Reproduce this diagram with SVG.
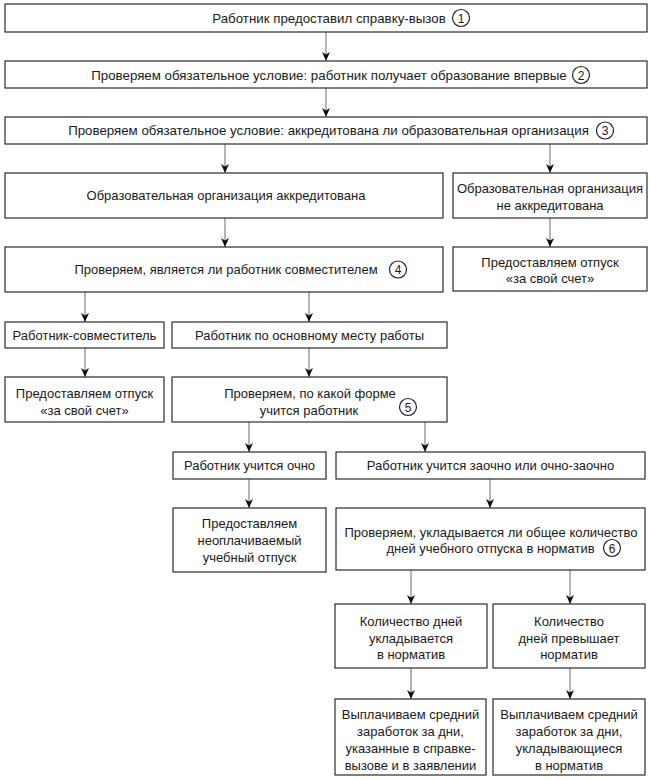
<svg xmlns="http://www.w3.org/2000/svg" width="650" height="780" viewBox="0 0 650 780">
<style>
.b{fill:#fff;stroke:#2a2a2a;stroke-width:1.2}
.t{font-family:"Liberation Sans",Arial,sans-serif;font-size:13px;fill:#1a1a1a;text-anchor:middle}
.tt{font-size:13.3px}
.c{fill:none;stroke:#222;stroke-width:1.2}
.n{font-family:"Liberation Sans",Arial,sans-serif;font-size:12px;fill:#1a1a1a;text-anchor:middle}
.a{fill:none;stroke:#6a6a6a;stroke-width:1;marker-end:url(#ah)}
</style>
<defs>
<marker id="ah" markerWidth="8" markerHeight="9" refX="4" refY="9" orient="0" markerUnits="userSpaceOnUse">
<path d="M0,0 L4,2.5 L8,0 L4,9 Z" fill="#111"/>
</marker>
</defs>
<rect width="650" height="780" fill="#fff"/>
<g id="connectors">
<path class="a" d="M326,32 V61"/>
<path class="a" d="M326,88 V117"/>
<path class="a" d="M225,144 V173"/>
<path class="a" d="M550,144 V173"/>
<path class="a" d="M225,218 V247"/>
<path class="a" d="M550,218 V247"/>
<path class="a" d="M85,292 V322"/>
<path class="a" d="M309,292 V322"/>
<path class="a" d="M85,348 V377"/>
<path class="a" d="M309,348 V377"/>
<path class="a" d="M249,422 V452"/>
<path class="a" d="M425,422 V452"/>
<path class="a" d="M249,479 V508"/>
<path class="a" d="M490,479 V508"/>
<path class="a" d="M411,570 V604"/>
<path class="a" d="M570,570 V604"/>
<path class="a" d="M411,668 V699"/>
<path class="a" d="M570,668 V699"/>
</g>
<g id="n1"><rect class="b" x="5" y="4" width="642" height="28"/><text class="t tt" x="329" y="22.5">Работник предоставил справку-вызов</text><circle class="c" cx="461" cy="18" r="8.5"/><text class="n" x="461" y="22.5">1</text></g>
<g id="n2"><rect class="b" x="5" y="61" width="642" height="27"/><text class="t tt" x="329" y="79.5">Проверяем обязательное условие: работник получает образование впервые</text><circle class="c" cx="581" cy="75" r="8.5"/><text class="n" x="581" y="79.5">2</text></g>
<g id="n3"><rect class="b" x="5" y="117" width="642" height="27"/><text class="t tt" x="328.5" y="135">Проверяем обязательное условие: аккредитована ли образовательная организация</text><circle class="c" cx="605" cy="130.5" r="8.5"/><text class="n" x="605" y="135">3</text></g>
<g id="n_acc"><rect class="b" x="5" y="173" width="438" height="45"/><text class="t" x="226" y="200">Образовательная организация аккредитована</text></g>
<g id="n_notacc"><rect class="b" x="453" y="173" width="194" height="45"/><text class="t" x="550" y="192.5">Образовательная организация</text><text class="t" x="550" y="209.5">не аккредитована</text></g>
<g id="n4"><rect class="b" x="5" y="247" width="438" height="45"/><text class="t" x="226" y="274">Проверяем, является ли работник совместителем</text><circle class="c" cx="398" cy="269.5" r="8.5"/><text class="n" x="398" y="274">4</text></g>
<g id="n_own1"><rect class="b" x="453" y="247" width="194" height="44"/><text class="t" x="550" y="266.5">Предоставляем отпуск</text><text class="t" x="550" y="283">«за свой счет»</text></g>
<g id="n_sovm"><rect class="b" x="5" y="322" width="159" height="26"/><text class="t" x="84.5" y="339.5">Работник-совместитель</text></g>
<g id="n_main"><rect class="b" x="172" y="322" width="275" height="26"/><text class="t" x="309.5" y="339.5">Работник по основному месту работы</text></g>
<g id="n_own2"><rect class="b" x="5" y="377" width="159" height="45"/><text class="t" x="84.5" y="397.5">Предоставляем отпуск</text><text class="t" x="84.5" y="414.5">«за свой счет»</text></g>
<g id="n5"><rect class="b" x="172" y="377" width="275" height="45"/><text class="t" x="310" y="397.5">Проверяем, по какой форме</text><text class="t" x="309" y="414.5">учится работник</text><circle class="c" cx="408" cy="407" r="8.5"/><text class="n" x="408" y="411.5">5</text></g>
<g id="n_och"><rect class="b" x="173" y="452" width="153" height="27"/><text class="t" x="249.5" y="470">Работник учится очно</text></g>
<g id="n_zaoch"><rect class="b" x="336" y="452" width="309" height="27"/><text class="t" x="490.5" y="470">Работник учится заочно или очно-заочно</text></g>
<g id="n_unpaid"><rect class="b" x="173" y="508" width="153" height="64"/><text class="t" x="249.5" y="528">Предоставляем</text><text class="t" x="249.5" y="545">неоплачиваемый</text><text class="t" x="249.5" y="562">учебный отпуск</text></g>
<g id="n6"><rect class="b" x="336" y="508" width="309" height="62"/><text class="t" x="491" y="536.5">Проверяем, укладывается ли общее количество</text><text class="t" x="490.5" y="553">дней учебного отпуска в норматив</text><circle class="c" cx="612" cy="548" r="8.5"/><text class="n" x="612" y="552.5">6</text></g>
<g id="n_fit"><rect class="b" x="335" y="604" width="152" height="64"/><text class="t" x="411" y="625.5">Количество дней</text><text class="t" x="411" y="642.5">укладывается</text><text class="t" x="411" y="659">в норматив</text></g>
<g id="n_exceed"><rect class="b" x="493" y="604" width="152" height="64"/><text class="t" x="569" y="625.5">Количество</text><text class="t" x="569" y="642.5">дней превышает</text><text class="t" x="569" y="659">норматив</text></g>
<g id="n_pay1"><rect class="b" x="335" y="699" width="151" height="76"/><text class="t" x="410.5" y="718.5">Выплачиваем средний</text><text class="t" x="410.5" y="735.5">заработок за дни,</text><text class="t" x="410.5" y="752.5">указанные в справке-</text><text class="t" x="410.5" y="769.5">вызове и в заявлении</text></g>
<g id="n_pay2"><rect class="b" x="493" y="699" width="152" height="76"/><text class="t" x="569" y="718.5">Выплачиваем средний</text><text class="t" x="569" y="735.5">заработок за дни,</text><text class="t" x="569" y="752.5">укладывающиеся</text><text class="t" x="569" y="769.5">в норматив</text></g>
</svg>
